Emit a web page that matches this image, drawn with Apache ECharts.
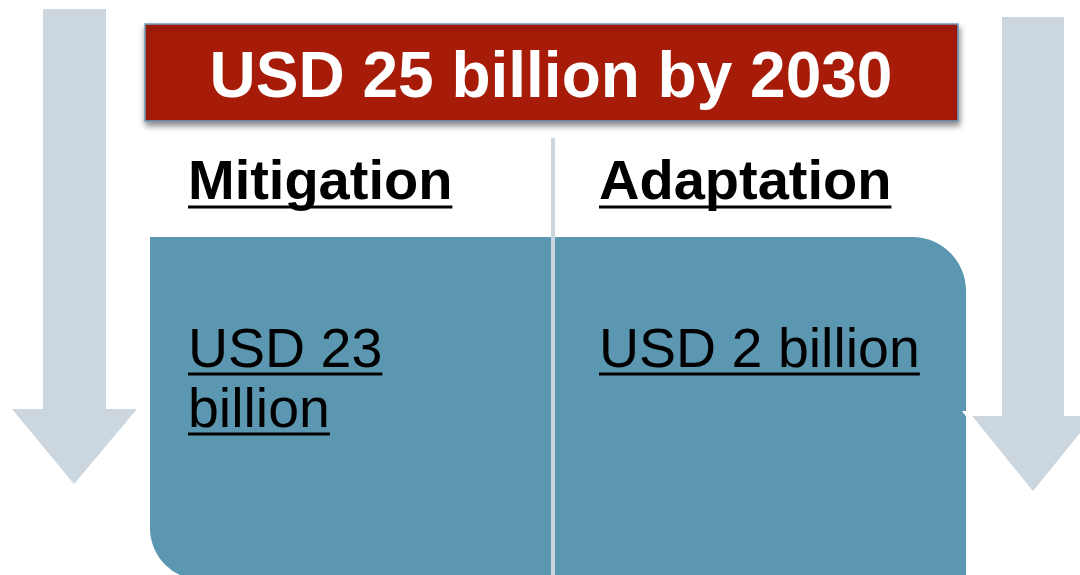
<!DOCTYPE html>
<html>
<head>
<meta charset="utf-8">
<script src="https://cdn.jsdelivr.net/npm/echarts@6/dist/echarts.min.js"></script>
<style>
  html, body { margin: 0; padding: 0; background: #fff; }
  #main { width: 1080px; height: 575px; }
</style>
</head>
<body>
<div id="main"></div>
<script>
// data
const totalAmount = 25; // USD billion
const targetYear = 2030;
const categories = ["Mitigation", "Adaptation"];
const amounts = [23, 2]; // USD billion
const amountLines = [["USD 23", "billion"], ["USD 2 billion"]];

const FONT = "Liberation Sans, Arial, Helvetica, sans-serif";

// text width helper for the underlines
const ctx = document.createElement("canvas").getContext("2d");
function textWidth(str, font) {
  ctx.font = font;
  return ctx.measureText(str).width;
}

const eChart = echarts.init(document.getElementById("main"));

const arrowColor = "#cbd6df";
const graphics = [
  // left arrow
  {
    type: "polygon",
    shape: { points: [[43, 9], [106, 9], [106, 409], [137, 409], [74, 484], [12, 409], [43, 409]] },
    style: { fill: arrowColor },
  },
  // right arrow (white outline cuts the panel edge)
  {
    type: "polygon",
    shape: { points: [[999.5, 14.5], [1066.5, 14.5], [1066.5, 413.5], [1099, 413.5], [1033, 495], [967, 413.5], [999.5, 413.5]] },
    style: { fill: arrowColor, stroke: "#fff", lineWidth: 5 },
    z: 3,
  },
  // teal panel
  {
    type: "rect",
    shape: { x: 150, y: 237, width: 816, height: 343, r: [0, 54, 0, 52] },
    style: { fill: "#5b97b0" },
    z: 2,
  },
  // divider
  {
    type: "line",
    shape: { x1: 553, y1: 138, x2: 553, y2: 575 },
    style: { stroke: "#cbd6df", lineWidth: 4 },
    z: 4,
  },
  // title box
  {
    type: "rect",
    shape: { x: 145, y: 24, width: 813, height: 97 },
    style: {
      fill: "#a71c09",
      stroke: "#6f9fbd",
      lineWidth: 1.5,
      shadowBlur: 6,
      shadowOffsetX: 1,
      shadowOffsetY: 4,
      shadowColor: "rgba(0,0,0,0.45)",
    },
    z: 5,
  },
  {
    type: "text",
    style: {
      x: 551,
      y: 79,
      text: "USD " + totalAmount + " billion by " + targetYear,
      font: "bold 64px " + FONT,
      fill: "#fff",
      align: "center",
      verticalAlign: "middle",
    },
    z: 6,
  },
];

// column headings and amounts
const colX = [188, 599];
categories.forEach(function (name, i) {
  const hFont = "bold 56px " + FONT;
  graphics.push({
    type: "text",
    style: { x: colX[i], y: 184, text: name, font: hFont, fill: "#000", align: "left", verticalAlign: "middle" },
    z: 6,
  });
  graphics.push({
    type: "rect",
    shape: { x: colX[i], y: 205.5, width: textWidth(name, hFont), height: 3 },
    style: { fill: "#000" },
    z: 6,
  });

  const aFont = "55.5px " + FONT;
  amountLines[i].forEach(function (line, k) {
    const cy = 352 + k * 60;
    graphics.push({
      type: "text",
      style: { x: colX[i], y: cy, text: line, font: aFont, fill: "#000", align: "left", verticalAlign: "middle" },
      z: 6,
    });
    graphics.push({
      type: "rect",
      shape: { x: colX[i], y: 372.5 + k * 60, width: textWidth(line, aFont), height: 3 },
      style: { fill: "#000" },
      z: 6,
    });
  });
});

const option = {
  animation: false,
  backgroundColor: "#fff",
  graphic: { elements: graphics },
};
eChart.setOption(option);
window.addEventListener("resize", function () {
  eChart.resize();
});
</script>
</body>
</html>
